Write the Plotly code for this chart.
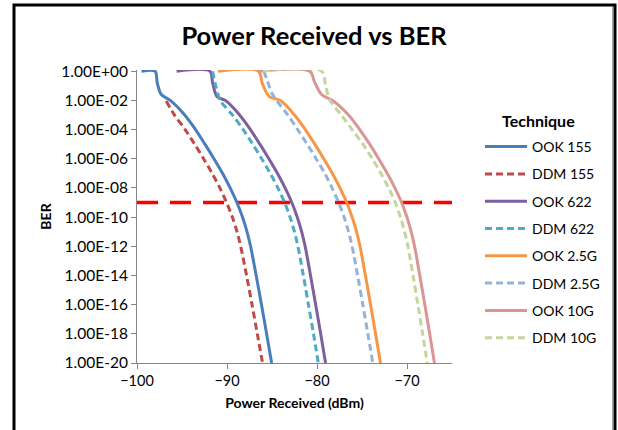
import plotly.graph_objects as go

# ---------------- data ----------------
series_names = ["OOK 155", "DDM 155", "OOK 622", "DDM 622",
                "OOK 2.5G", "DDM 2.5G", "OOK 10G", "DDM 10G"]

# BER levels shared by the lower part of every curve (1e-2 ... 1e-20)
ber_levels = [1e-2, 1e-3, 1e-4, 1e-5, 1e-6, 1e-7, 1e-8, 1e-9, 1e-10, 1e-11,
              1e-12, 1e-14, 1e-16, 1e-18, 1e-20]

# head (flat part at 1E+00 and steep drop) of each curve
ook155_head_x = [-99.5, -98.0, -97.75, -97.3]
ook155_head_y = [1, 1, 1.6e-1, 2.5e-2]
ook155_x = [-96.3, -94.7, -93.5, -92.45, -91.45, -90.5, -89.65, -88.9, -88.28, -87.78,
            -87.38, -86.76, -86.17, -85.6, -85.04]

ddm155_head_x = [-96.75]
ddm155_head_y = [9e-3]
ddm155_x = [None, -95.85, -94.65, -93.6, -92.6, -91.65, -90.8, -90.05, -89.41, -88.89,
            -88.48, -87.83, -87.22, -86.63, -86.05]

ook622_head_x = [-95.6, -91.9, -91.6, -91.1]
ook622_head_y = [1, 1, 1.6e-1, 1.8e-2]
ook622_x = [-90.2, -88.6, -87.4, -86.35, -85.35, -84.4, -83.55, -82.8, -82.2, -81.71,
            -81.32, -80.72, -80.15, -79.59, -79.05]

ddm622_head_x = [-91.6, -91.25]
ddm622_head_y = [1, 1e-1]
ddm622_x = [-90.75, -89.4, -88.2, -87.15, -86.15, -85.2, -84.35, -83.6, -83.0, -82.51,
            -82.12, -81.52, -80.95, -80.39, -79.85]

ook25_head_x = [-91.0, -86.5, -86.1, -85.3]
ook25_head_y = [1, 1, 1.6e-1, 1.8e-2]
ook25_x = [-84.1, -82.5, -81.3, -80.25, -79.25, -78.3, -77.45, -76.7, -76.1, -75.61,
           -75.22, -74.62, -74.05, -73.49, -72.95]

ddm25_head_x = [-85.9, -85.5, -85.0]
ddm25_head_y = [1, 2e-1, 3e-2]
ddm25_x = [-84.5, -83.25, -82.15, -81.1, -80.1, -79.15, -78.33, -77.6, -76.99, -76.5,
           -76.1, -75.49, -74.91, -74.35, -73.8]

ook10_head_x = [-86.5, -80.8, -80.3, -79.5]
ook10_head_y = [1, 1, 2e-1, 2.5e-2]
ook10_x = [-78.3, -76.5, -75.25, -74.15, -73.15, -72.2, -71.35, -70.6, -70.01, -69.54,
           -69.16, -68.58, -68.02, -67.48, -66.95]

ddm10_head_x = [-86.0, -79.5, -79.05]
ddm10_head_y = [1, 1, 1e-1]
ddm10_x = [-78.55, -77.3, -76.1, -74.9, -73.85, -72.9, -72.05, -71.3, -70.73, -70.27,
           -69.9, -69.33, -68.79, -68.26, -67.75]

threshold_x = [-100, -65]
threshold_y = [1e-9, 1e-9]

x_tickvals = [-100, -90, -80, -70]
y_tickvals = [1e0, 1e-2, 1e-4, 1e-6, 1e-8, 1e-10, 1e-12, 1e-14, 1e-16, 1e-18, 1e-20]
y_ticktext = ["1.00E+00", "1.00E-02", "1.00E-04", "1.00E-06", "1.00E-08", "1.00E-10",
              "1.00E-12", "1.00E-14", "1.00E-16", "1.00E-18", "1.00E-20"]

# ---------------- styles ----------------
heads = [(ook155_head_x, ook155_head_y), (ddm155_head_x, ddm155_head_y),
         (ook622_head_x, ook622_head_y), (ddm622_head_x, ddm622_head_y),
         (ook25_head_x, ook25_head_y), (ddm25_head_x, ddm25_head_y),
         (ook10_head_x, ook10_head_y), (ddm10_head_x, ddm10_head_y)]
tails = [ook155_x, ddm155_x, ook622_x, ddm622_x, ook25_x, ddm25_x, ook10_x, ddm10_x]

colors = ["#4A7EBB", "#BE4B48", "#7D60A0", "#4BACC6",
          "#F79646", "#95B3D7", "#D99694", "#C3D69B"]
dashes = ["solid", "7px,4px", "solid", "7px,4px",
          "solid", "7px,4px", "solid", "7px,4px"]

FONT = "Lato"

fig = go.Figure()

fig.add_trace(go.Scatter(x=threshold_x, y=threshold_y, mode="lines",
                         line=dict(color="#FF0000", width=3.5, dash="21px,12px"),
                         showlegend=False, hoverinfo="skip"))

for name, (hx, hy), tx, c, d in zip(series_names, heads, tails, colors, dashes):
    xs = list(hx)
    ys = list(hy)
    for xv, yv in zip(tx, ber_levels):
        if xv is not None:
            xs.append(xv)
            ys.append(yv)
    fig.add_trace(go.Scatter(x=xs, y=ys, mode="lines", name=name, legendgroup=name,
                             line=dict(color=c, width=3, dash=d, shape="spline",
                                       smoothing=0.9)))

W, H = 618, 430
ML, MR, MT, MB = 137, 166, 70, 67
PW, PH = W - ML - MR, H - MT - MB


def px2paper_x(px):
    return (px - ML) / PW


def px2paper_y(py):
    return (H - MB - py) / PH


fig.update_layout(
    width=W, height=H,
    margin=dict(l=ML, r=MR, t=MT, b=MB),
    paper_bgcolor="white", plot_bgcolor="white",
    font=dict(family=FONT, color="black", size=14),
    title=dict(text="Power Received vs BER", x=314 / W, xanchor="center",
               y=1 - 36 / H, yanchor="middle",
               font=dict(family=FONT, size=25.5, weight="bold", color="black")),
    xaxis=dict(range=[-100, -65], tickvals=x_tickvals, ticks="outside", ticklen=5,
               tickcolor="#868686", showline=True, linecolor="#868686", linewidth=1,
               showgrid=False, zeroline=False,
               tickfont=dict(family=FONT, size=14.5, color="black"),
               title=dict(text="Power Received (dBm)", standoff=9,
                          font=dict(family=FONT, size=14, weight="bold", color="black"))),
    yaxis=dict(type="log", range=[-20, 0.08], tickvals=y_tickvals, ticktext=y_ticktext,
               ticks="outside", ticklen=5, tickcolor="#868686", showline=True,
               linecolor="#868686", linewidth=1, showgrid=False, zeroline=False,
               tickfont=dict(family=FONT, size=15.5, color="black"),
               title=dict(text="BER", standoff=6,
                          font=dict(family=FONT, size=14, weight="bold", color="black"))),
    legend=dict(x=px2paper_x(480), y=px2paper_y(131), xanchor="left", yanchor="top",
                font=dict(family=FONT, size=14, color="black"),
                tracegroupgap=6.1, itemwidth=42, bgcolor="rgba(0,0,0,0)"),
    annotations=[dict(text="Technique", x=px2paper_x(538), y=px2paper_y(120),
                      xref="paper", yref="paper", xanchor="center", yanchor="middle",
                      showarrow=False,
                      font=dict(family=FONT, size=16, weight="bold", color="black"))],
    shapes=[
        dict(type="rect", xref="paper", yref="paper",
             x0=px2paper_x(14), x1=px2paper_x(615), y0=px2paper_y(445), y1=px2paper_y(5),
             line=dict(color="black", width=3), fillcolor="rgba(0,0,0,0)", layer="above"),
        dict(type="line", xref="paper", yref="paper",
             x0=px2paper_x(612.5), x1=px2paper_x(612.5), y0=px2paper_y(445), y1=px2paper_y(7),
             line=dict(color="#A0A0A0", width=1)),
    ],
)

fig.write_html("out.html")
